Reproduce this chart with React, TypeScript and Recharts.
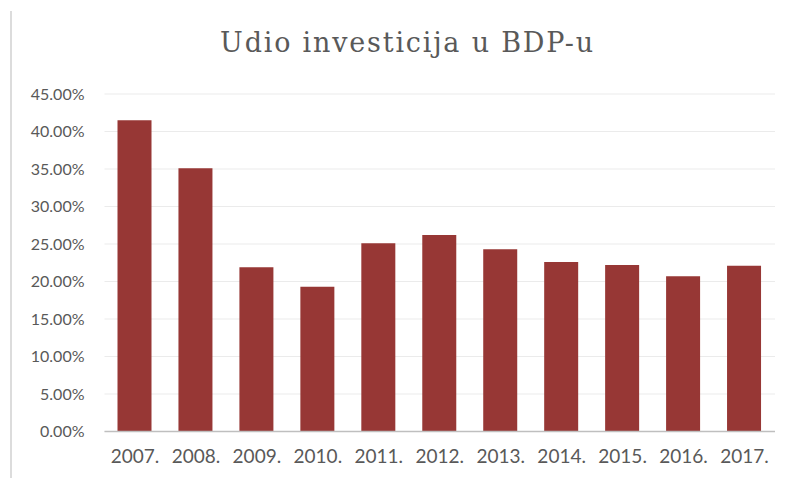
import React from 'react';
import { BarChart, Bar, XAxis, YAxis, CartesianGrid } from 'recharts';

const years = ['2007.', '2008.', '2009.', '2010.', '2011.', '2012.', '2013.', '2014.', '2015.', '2016.', '2017.'];
const shares = [41.5, 35.1, 21.9, 19.3, 25.1, 26.2, 24.3, 22.6, 22.2, 20.7, 22.1];
const yTicks = [0, 5, 10, 15, 20, 25, 30, 35, 40, 45];
const title = 'Udio investicija u BDP-u';

const data = years.map((y, i) => ({ year: y, value: shares[i] }));

export default function App() {
  return (
    <div style={{ position: 'relative', width: 783, height: 470, background: '#fff' }}>
      <div style={{ position: 'absolute', left: 2, top: 3, width: 2, height: 467, background: '#dcdcdc' }} />
      <svg width={783} height={70} style={{ position: 'absolute', left: 0, top: 0 }}>
        <text x={399.5} y={44} textAnchor="middle" fill="#595959" style={{ fontFamily: '"DejaVu Serif", serif', fontSize: 27, letterSpacing: 1.8 }}>
          {title}
        </text>
      </svg>
      <div style={{ position: 'absolute', left: 0, top: 0 }}>
        <BarChart width={783} height={462} data={data} margin={{ top: 86, right: 16, left: 0, bottom: 8.5 }} barSize={34}>
          <CartesianGrid vertical={false} stroke="#ebebeb" />
          <XAxis
            dataKey="year"
            height={30}
            tickLine={false}
            tickSize={0}
            tickMargin={18}
            axisLine={{ stroke: '#bfbfbf', strokeWidth: 1.5 }}
            tick={{ fill: '#595959', fontSize: 19, fontFamily: 'Lato, sans-serif' }}
            interval={0}
          />
          <YAxis
            width={96.5}
            domain={[0, 45]}
            ticks={yTicks}
            tickLine={false}
            axisLine={false}
            tickSize={0}
            tickMargin={20}
            tickFormatter={(v: number) => `${v.toFixed(2)}%`}
            tick={{ fill: '#595959', fontSize: 16, fontFamily: 'Lato, sans-serif' }}
          />
          <Bar dataKey="value" fill="#973735" isAnimationActive={false} />
        </BarChart>
      </div>
    </div>
  );
}
